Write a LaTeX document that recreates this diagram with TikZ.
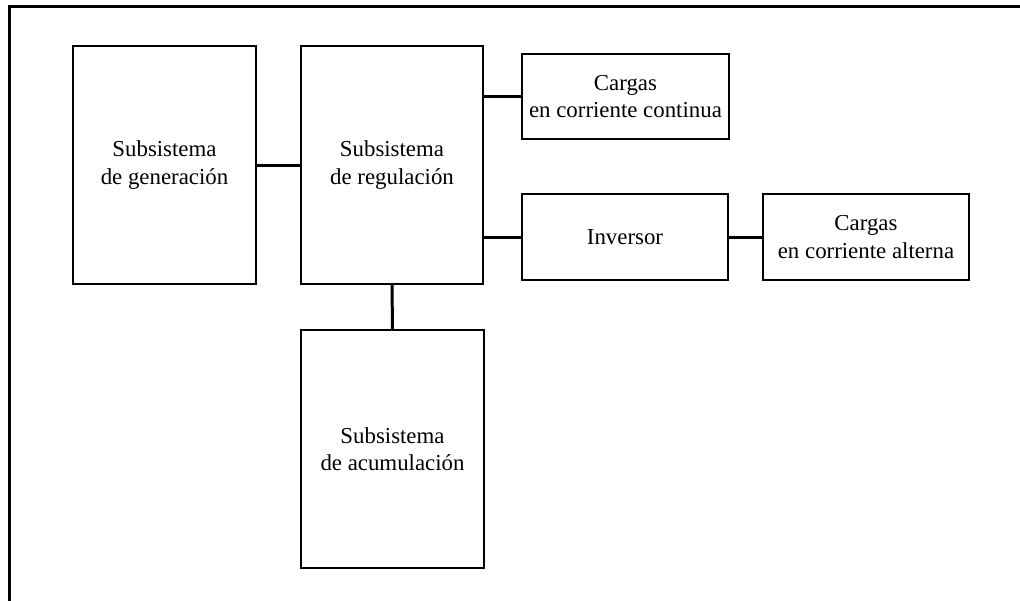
\documentclass[tikz,border=0pt]{standalone}
\usepackage{fontspec}
\setmainfont{Liberation Serif}
\begin{document}
\begin{tikzpicture}[
  blk/.style={draw, line width=1.1pt, align=center, inner sep=0pt,
    font=\fontsize{13}{15.5}\selectfont},
  conn/.style={line width=1.7pt}
]
\useasboundingbox (0,0) rectangle (20.4,-12);
\coordinate (fb) at (0.19,-12.2);
\coordinate (fc) at (0.19,-0.13);
\coordinate (fr) at (20.6,-0.13);
\draw[line width=1.7pt] (fb) -- (fc) -- (fr);

\node[blk, minimum width=3.66cm, minimum height=4.76cm] (gen) at (3.29,-3.30) {Subsistema\\de generación};
\node[blk, minimum width=3.64cm, minimum height=4.76cm] (reg) at (7.84,-3.30) {Subsistema\\de regulación};
\node[blk, minimum width=3.66cm, minimum height=4.76cm] (acc) at (7.85,-8.98) {Subsistema\\de acumulación};
\node[blk, minimum width=4.14cm, minimum height=1.70cm] (cc) at (12.51,-1.93) {Cargas\\en corriente continua};
\node[blk, minimum width=4.12cm, minimum height=1.72cm] (inv) at (12.50,-4.74) {Inversor};
\node[blk, minimum width=4.12cm, minimum height=1.72cm] (ca) at (17.32,-4.74) {Cargas\\en corriente alterna};

\draw[conn] (gen.east) -- (reg.west);
\draw[conn] (reg.east |- cc.west) -- (cc.west);
\draw[conn] (reg.east |- inv.west) -- (inv.west);
\draw[conn] (inv.east) -- (ca.west);
\draw[conn] (reg.south) -- (acc.north);
\end{tikzpicture}
\end{document}
